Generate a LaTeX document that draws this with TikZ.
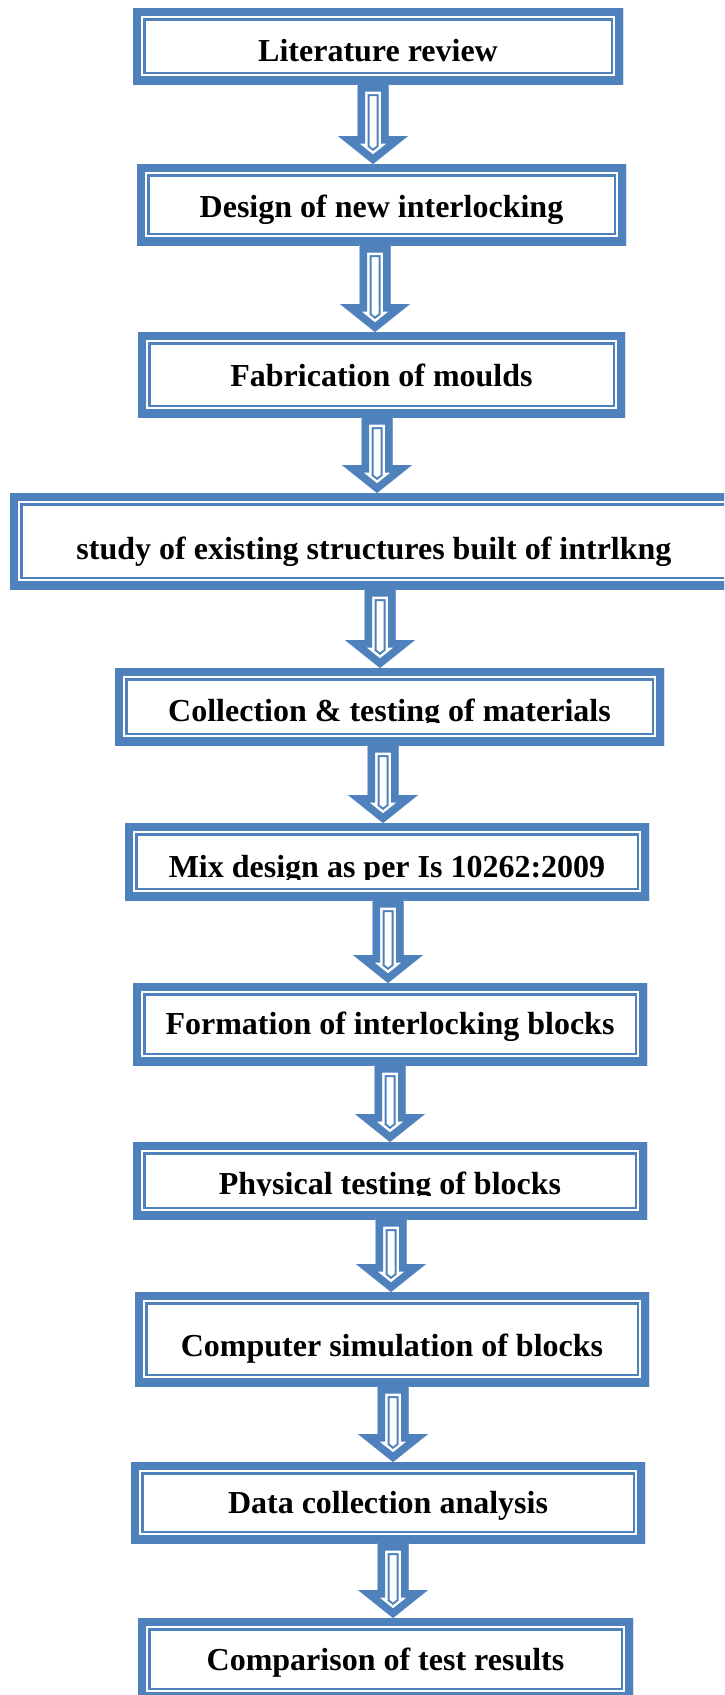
\documentclass[tikz,border=0pt]{standalone}
\usepackage{fontspec}
\setmainfont{Liberation Serif}
\usetikzlibrary{calc}
\definecolor{B}{HTML}{4F81BD}
\tikzset{
  flowbox/.style={rectangle, inner sep=0pt, outer sep=0pt, fill=white, line join=miter,
    path picture={
      \draw[B, line width=25pt] (path picture bounding box.south west) rectangle (path picture bounding box.north east);
      \draw[white, line width=20.6pt] (path picture bounding box.south west) rectangle (path picture bounding box.north east);
      \draw[B, line width=16pt] (path picture bounding box.south west) rectangle (path picture bounding box.north east);
    }},
  txt/.style={inner sep=0pt, outer sep=0pt, anchor=base, font=\fontsize{32}{38}\selectfont\bfseries}
}
\newcommand\arrowshape[1]{\path[#1] ($(atop)+(-15.5,0)$) -- ($(atip)+(-15.5,-28)$) -- ($(atip)+(-35,-28)$) -- (atip) -- ($(atip)+(35,-28)$) -- ($(atip)+(15.5,-28)$) -- ($(atop)+(15.5,0)$) -- cycle;}
\newcommand\flowarrow[3]{%
  \coordinate (ax) at (#3,0);
  \coordinate (atop) at (#1.south -| ax);
  \coordinate (atip) at (#2.north -| ax);
  \begin{scope}[line join=miter]
    \arrowshape{clip}
    \arrowshape{fill=white}
    \arrowshape{draw=B, line width=24pt}
    \arrowshape{draw=white, line width=20pt}
    \arrowshape{draw=B, line width=15pt}
  \end{scope}}
\begin{document}
\begin{tikzpicture}[x=1pt, y=-1pt]
\useasboundingbox (0,0) rectangle (724,1695);
\clip (0,0) rectangle (724,1695);
\fill[white] (0,0) rectangle (724,1695);
% boxes
\node[flowbox, minimum width=490pt, minimum height=76pt] (b1) at (378,46) {};
\node[flowbox, minimum width=489pt, minimum height=81pt] (b2) at (381.5,204.5) {};
\node[flowbox, minimum width=487pt, minimum height=85pt] (b3) at (381.5,374.5) {};
\node[flowbox, minimum width=730pt, minimum height=96pt] (b4) at (375,541) {};
\node[flowbox, minimum width=549pt, minimum height=77pt] (b5) at (389.5,706.5) {};
\node[flowbox, minimum width=524pt, minimum height=77pt] (b6) at (387,861.5) {};
\node[flowbox, minimum width=514pt, minimum height=82pt] (b7) at (390,1024) {};
\node[flowbox, minimum width=514pt, minimum height=77pt] (b8) at (390,1180.5) {};
\node[flowbox, minimum width=514pt, minimum height=94pt] (b9) at (392,1339) {};
\node[flowbox, minimum width=514pt, minimum height=81pt] (b10) at (388,1502.5) {};
\node[flowbox, minimum width=495pt, minimum height=82pt] (b11) at (385.5,1659) {};
% arrows
\flowarrow{b1}{b2}{373}
\flowarrow{b2}{b3}{375}
\flowarrow{b3}{b4}{377}
\flowarrow{b4}{b5}{380}
\flowarrow{b5}{b6}{383}
\flowarrow{b6}{b7}{388}
\flowarrow{b7}{b8}{390}
\flowarrow{b8}{b9}{391}
\flowarrow{b9}{b10}{393}
\flowarrow{b10}{b11}{393}
% texts
\node[txt] (t1) at (378,61) {Literature review};
\node[txt] (t2) at (381.5,217) {Design of new interlocking};
\node[txt] (t3) at (381.5,386) {Fabrication of moulds};
\node[txt] (t4) at (374,559) {study of existing structures built of intrlkng};
\begin{scope}
  \clip (0,0) rectangle (724,722.5);
  \node[txt] (t5) at (389.5,721) {Collection \& testing of materials};
\end{scope}
\begin{scope}
  \clip (0,0) rectangle (724,879);
  \node[txt] (t6) at (387,877) {Mix design as per Is 10262:2009};
\end{scope}
\node[txt] (t7) at (390,1034) {Formation of interlocking blocks};
\begin{scope}
  \clip (0,0) rectangle (724,1195.5);
  \node[txt] (t8) at (390,1194) {Physical testing of blocks};
\end{scope}
\node[txt] (t9) at (392,1356) {Computer simulation of blocks};
\node[txt] (t10) at (388,1513) {Data collection analysis};
\node[txt] (t11) at (385.5,1670) {Comparison of test results};
\end{tikzpicture}
\end{document}
